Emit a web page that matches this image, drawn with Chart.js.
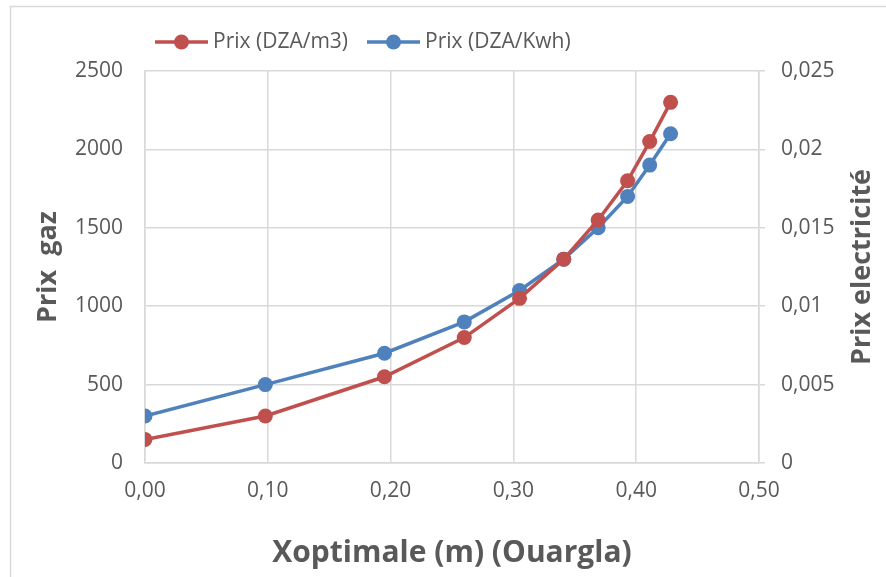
<!DOCTYPE html>
<html>
<head>
<meta charset="utf-8">
<script src="https://cdn.jsdelivr.net/npm/chart.js@4.4.1/dist/chart.umd.min.js"></script>
<style>
  html, body { margin: 0; padding: 0; background: #ffffff; }
  #wrap { width: 886px; height: 577px; position: relative; }
</style>
</head>
<body>
<div id="wrap"><canvas id="c" width="886" height="577"></canvas></div>
<script>
// Optimal position (m) and the matching prices
const xOptimale = [0.000, 0.098, 0.195, 0.260, 0.305, 0.341, 0.369, 0.393, 0.411, 0.428];
const prixGaz = [150, 300, 550, 800, 1050, 1300, 1550, 1800, 2050, 2300];           // DZA/m3
const prixElec = [0.003, 0.005, 0.007, 0.009, 0.011, 0.013, 0.015, 0.017, 0.019, 0.021]; // DZA/Kwh

const seriesNames = ['Prix (DZA/m3)', 'Prix (DZA/Kwh)'];
const xTicks = [0, 0.1, 0.2, 0.3, 0.4, 0.5];
const yGazTicks = [0, 500, 1000, 1500, 2000, 2500];
const yElecTicks = [0, 0.005, 0.01, 0.015, 0.02, 0.025];

const titleX = 'Xoptimale (m) (Ouargla)';
const titleLeft = 'Prix  gaz';
const titleRight = 'Prix electricité';

const RED = '#C0504D';
const BLUE = '#4F81BD';
const TEXT = '#595959';
const GRID = '#D9D9D9';
const FONT = "'Open Sans', sans-serif";

const comma = (s) => s.replace('.', ',');

// thin outer frame
const frame = {
  id: 'frame',
  beforeDraw(chart) {
    const ctx = chart.ctx;
    ctx.save();
    ctx.strokeStyle = GRID;
    ctx.lineWidth = 1.5;
    ctx.strokeRect(10.5, 6.5, 1000, 1000);
    ctx.restore();
  }
};

// legend row: line-and-dot marker followed by the series name
const lineLegend = {
  id: 'lineLegend',
  afterDraw(chart) {
    const ctx = chart.ctx;
    const y = 42;
    const starts = [155, 367];
    ctx.save();
    ctx.font = "21px " + FONT;
    ctx.textBaseline = 'middle';
    ctx.textAlign = 'left';
    chart.data.datasets.forEach((d, i) => {
      const x0 = starts[i];
      ctx.strokeStyle = d.borderColor;
      ctx.lineWidth = 3.5;
      ctx.beginPath(); ctx.moveTo(x0, y); ctx.lineTo(x0 + 53, y); ctx.stroke();
      ctx.fillStyle = d.borderColor;
      ctx.beginPath(); ctx.arc(x0 + 26.5, y, 7.5, 0, Math.PI * 2); ctx.fill();
      ctx.fillStyle = TEXT;
      ctx.fillText(d.label, x0 + 58, y);
    });
    ctx.restore();
  }
};

const axisTitles = {
  id: 'axisTitles',
  afterDraw(chart) {
    const ctx = chart.ctx;
    const a = chart.chartArea;
    const midY = (a.top + a.bottom) / 2;
    ctx.save();
    ctx.fillStyle = TEXT;
    ctx.textAlign = 'center';
    ctx.textBaseline = 'middle';
    ctx.font = "bold 30px " + FONT;
    ctx.fillText(titleX, (a.left + a.right) / 2, 553);

    ctx.font = "bold 27px " + FONT;
    ctx.save();
    ctx.translate(48, midY);
    ctx.rotate(-Math.PI / 2);
    ctx.fillText(titleLeft, 0, 0);
    ctx.restore();

    ctx.save();
    ctx.translate(862, midY);
    ctx.rotate(-Math.PI / 2);
    ctx.fillText(titleRight, 0, 0);
    ctx.restore();
    ctx.restore();
  }
};

new Chart(document.getElementById('c'), {
  type: 'line',
  data: {
    datasets: [
      {
        label: seriesNames[0],
        data: xOptimale.map((x, i) => ({ x: x, y: prixGaz[i] })),
        borderColor: RED, backgroundColor: RED,
        pointBackgroundColor: RED, pointBorderColor: RED,
        borderWidth: 3.5, pointRadius: 7.5, pointBorderWidth: 0, pointHoverRadius: 7.5,
        yAxisID: 'y', tension: 0
      },
      {
        label: seriesNames[1],
        data: xOptimale.map((x, i) => ({ x: x, y: prixElec[i] })),
        borderColor: BLUE, backgroundColor: BLUE,
        pointBackgroundColor: BLUE, pointBorderColor: BLUE,
        borderWidth: 3.5, pointRadius: 7.5, pointBorderWidth: 0, pointHoverRadius: 7.5,
        yAxisID: 'y1', tension: 0
      }
    ]
  },
  options: {
    responsive: false,
    animation: false,
    layout: { padding: { top: 71, left: 0, right: 0, bottom: 0 } },
    plugins: {
      tooltip: { enabled: false },
      legend: { display: false }
    },
    scales: {
      x: {
        type: 'linear',
        min: 0, max: 0.5,
        afterBuildTicks(s) { s.ticks = xTicks.map(v => ({ value: v })); },
        afterFit(s) { s.height = 114; },
        ticks: {
          color: TEXT, font: { family: FONT, size: 21 }, padding: 15,
          callback: (v) => comma(v.toFixed(2))
        },
        grid: { color: GRID, lineWidth: 1.5, drawTicks: false },
        border: { color: GRID, width: 1.5 }
      },
      y: {
        position: 'left',
        min: 0, max: 2500,
        afterBuildTicks(s) { s.ticks = yGazTicks.map(v => ({ value: v })); },
        afterFit(s) { s.width = 145; },
        ticks: {
          color: TEXT, font: { family: FONT, size: 21 }, padding: 22,
          callback: (v) => String(v)
        },
        grid: { color: GRID, lineWidth: 1.5, drawTicks: false },
        border: { color: GRID, width: 1.5 }
      },
      y1: {
        position: 'right',
        min: 0, max: 0.025,
        afterBuildTicks(s) { s.ticks = yElecTicks.map(v => ({ value: v })); },
        afterFit(s) { s.width = 127; },
        ticks: {
          color: TEXT, font: { family: FONT, size: 21 }, padding: 16,
          callback: (v) => comma(String(parseFloat(v.toFixed(3))))
        },
        grid: { color: GRID, lineWidth: 1.5, drawOnChartArea: false, drawTicks: true, tickLength: 6 },
        border: { color: GRID, width: 1.5 }
      }
    }
  },
  plugins: [frame, lineLegend, axisTitles]
});
</script>
</body>
</html>
